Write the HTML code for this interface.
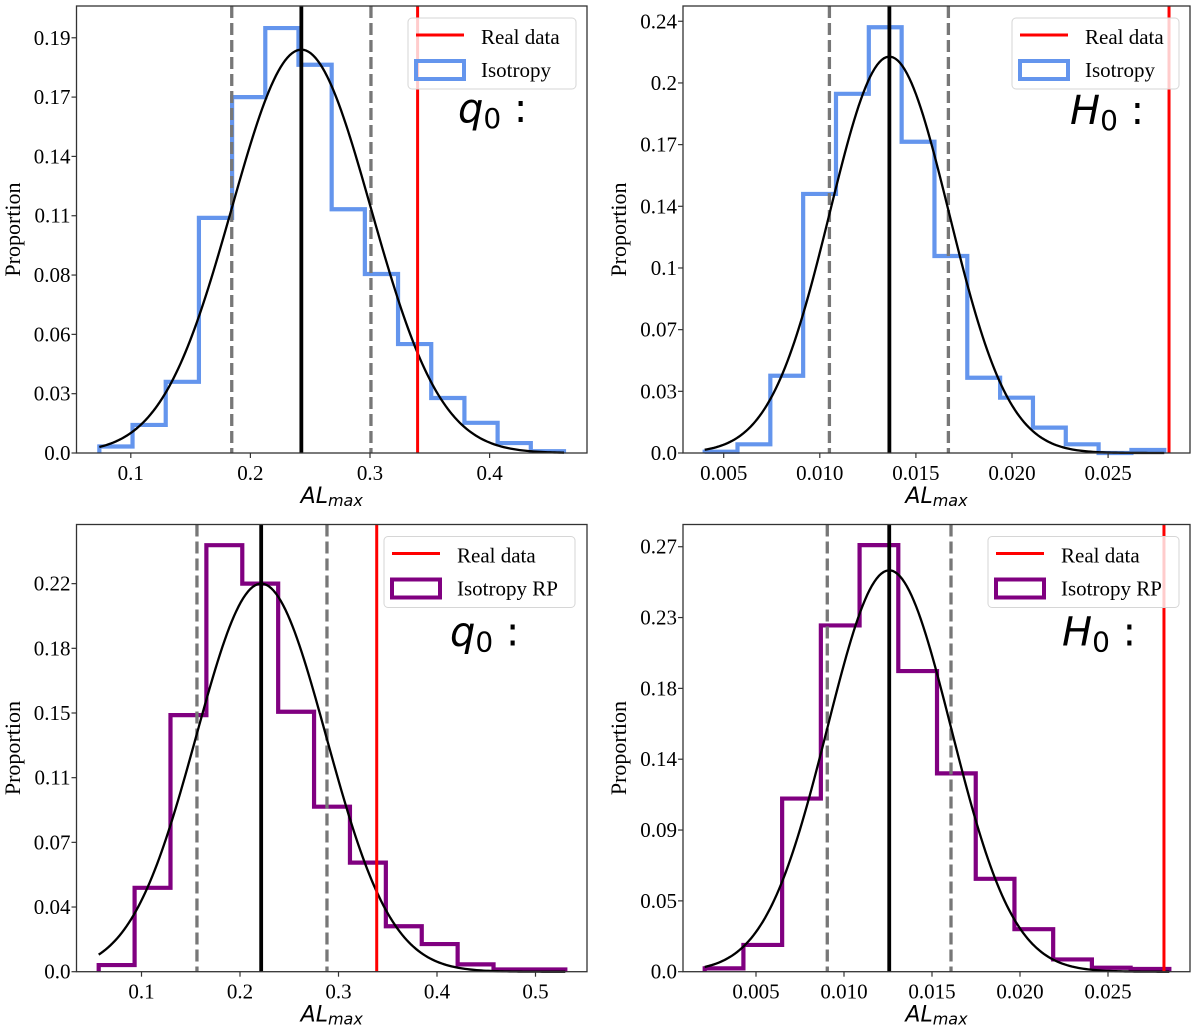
<!DOCTYPE html>
<html><head><meta charset="utf-8">
<style>
html,body{margin:0;padding:0;background:#fff;}
svg{display:block;}
.tick{font-family:"Liberation Serif",serif;font-size:21px;fill:#000;}
.leg{font-family:"Liberation Serif",serif;font-size:21px;fill:#000;}
.ylab{font-family:"Liberation Serif",serif;font-size:22px;fill:#000;}
.xlab{font-family:"DejaVu Sans",sans-serif;font-style:italic;font-size:22px;fill:#000;}
.tag{font-family:"DejaVu Sans",sans-serif;font-style:italic;font-size:40px;fill:#000;}
</style></head>
<body>
<svg id="fig" width="1200" height="1031" viewBox="0 0 1200 1031" xmlns="http://www.w3.org/2000/svg"></svg>
<script>
// ---- Top-left (q0, Isotropy) ----
const tlCounts = [0.003,0.013,0.033,0.109,0.165,0.197,0.180,0.113,0.083,0.0505,0.0255,0.014,0.0046,0.0008];
const tlBinStart = 0.0737, tlBinWidth = 0.02775;
const tlLines = [0.1844,0.2426,0.3008,0.3398]; // lower, mean, upper, real
const tlFit = [0.2426,0.0582,0.187];            // mu, sigma, peak
const tlXTicks = [0.1,0.2,0.3,0.4];
const tlXLabels = ["0.1","0.2","0.3","0.4"];
const tlYTicks = [0,0.0275,0.055,0.0825,0.11,0.1375,0.165,0.1925];
const tlYLabels = ["0.0","0.03","0.06","0.08","0.11","0.14","0.17","0.19"];
// ---- Top-right (H0, Isotropy) ----
const trCounts = [0.0007,0.0048,0.0426,0.1428,0.198,0.2347,0.1716,0.1086,0.0415,0.0305,0.014,0.0048,0,0.0017];
const trBinStart = 0.00401, trBinWidth = 0.001708;
const trLines = [0.0105,0.01362,0.01669,0.02817];
const trFit = [0.01362,0.0031,0.2185];
const trXTicks = [0.005,0.010,0.015,0.020,0.025];
const trXLabels = ["0.005","0.010","0.015","0.020","0.025"];
const trYTicks = [0,0.034,0.068,0.102,0.136,0.17,0.204,0.238];
const trYLabels = ["0.0","0.03","0.07","0.1","0.14","0.17","0.2","0.24"];
// ---- Bottom-left (q0, Isotropy RP) ----
const blCounts = [0.0038,0.048,0.1468,0.244,0.222,0.1487,0.0944,0.0624,0.026,0.0158,0.0042,0.0013,0.0013];
const blBinStart = 0.05655, blBinWidth = 0.03644;
const blLines = [0.1563,0.2215,0.2883,0.3388];
const blFit = [0.2215,0.066,0.222];
const blXTicks = [0.1,0.2,0.3,0.4,0.5];
const blXLabels = ["0.1","0.2","0.3","0.4","0.5"];
const blYTicks = [0,0.037,0.074,0.111,0.148,0.185,0.222];
const blYLabels = ["0.0","0.04","0.07","0.11","0.15","0.18","0.22"];
// ---- Bottom-right (H0, Isotropy RP) ----
const brCounts = [0.0021,0.017,0.110,0.220,0.271,0.191,0.126,0.059,0.027,0.0078,0.0025,0.0017];
const brBinStart = 0.002085, brBinWidth = 0.0022;
const brLines = [0.00905,0.01257,0.01608,0.02818];
const brFit = [0.01257,0.00352,0.255];
const brXTicks = [0.005,0.010,0.015,0.020,0.025];
const brXLabels = ["0.005","0.010","0.015","0.020","0.025"];
const brYTicks = [0,0.045,0.09,0.135,0.18,0.225,0.27];
const brYLabels = ["0.0","0.05","0.09","0.14","0.18","0.23","0.27"];

const NS="http://www.w3.org/2000/svg";
const fig=document.getElementById('fig');
function mk(tag,attrs,parent){const e=document.createElementNS(NS,tag);for(const k in attrs)e.setAttribute(k,attrs[k]);(parent||fig).appendChild(e);return e;}

function panel(p){
  const g=mk('g',{});
  
  
  const X=v=>p.x0px+(v-p.x0v)*p.xs;
  const Y=v=>p.bottom-v*p.ys;
  let d='M'+X(p.start)+','+Y(0);
  p.counts.forEach((c,i)=>{const a=X(p.start+i*p.width),b=X(p.start+(i+1)*p.width);d+=' L'+a+','+Y(c)+' L'+b+','+Y(c);});
  d+=' L'+X(p.start+p.counts.length*p.width)+','+Y(0);
  const h=mk('path',{d:d,fill:'none',stroke:p.color,'stroke-width':4.2,'stroke-linejoin':'miter'},g);
  
  
  [0,2].forEach(k=>{const l=mk('line',{x1:X(p.lines[k]),x2:X(p.lines[k]),y1:p.top,y2:p.bottom,stroke:'#777','stroke-width':3.3,'stroke-dasharray':'12,5'},g);
    
    });
  const m=mk('line',{x1:X(p.lines[1]),x2:X(p.lines[1]),y1:p.top,y2:p.bottom,stroke:'#000','stroke-width':3.8},g);
  
  
  const [mu,sg,pk]=p.fit;const x1=p.start,x2=p.start+p.counts.length*p.width;let fd='';
  for(let i=0;i<=200;i++){const v=x1+(x2-x1)*i/200;const y=pk*Math.exp(-(v-mu)*(v-mu)/(2*sg*sg));fd+=(i?' L':'M')+X(v).toFixed(2)+','+Y(y).toFixed(2);}
  const f=mk('path',{d:fd,fill:'none',stroke:'#000','stroke-width':2.3},g);
  
  
  const r=mk('line',{x1:X(p.lines[3]),x2:X(p.lines[3]),y1:p.top,y2:p.bottom,stroke:'#ff0000','stroke-width':3},g);
  
  
  const fr=mk('rect',{x:p.left,y:p.top,width:p.right-p.left,height:p.bottom-p.top,fill:'none',stroke:'#333','stroke-width':1.3},g);
  
  
  p.xt.forEach((v,i)=>{mk('line',{x1:X(v),x2:X(v),y1:p.bottom,y2:p.bottom+5,stroke:'#333','stroke-width':1.2},g);
    const t=mk('text',{x:X(v),y:p.bottom+27,'text-anchor':'middle',class:'tick'},g);t.textContent=p.xl[i];
    
    });
  p.yt.forEach((v,i)=>{mk('line',{x1:p.left-5,x2:p.left,y1:Y(v),y2:Y(v),stroke:'#333','stroke-width':1.2},g);
    const t=mk('text',{x:p.left-6,y:Y(v)+7,'text-anchor':'end',class:'tick'},g);t.textContent=p.yl[i];
    
    });
  const yl=mk('text',{x:0,y:0,transform:'translate('+p.ylx+','+((p.top+p.bottom)/2)+') rotate(-90)','text-anchor':'middle',class:'ylab'},g);
  yl.textContent='Proportion';
  
  
  const xl=mk('text',{x:(p.left+p.right)/2,y:p.bottom+50,'text-anchor':'middle',class:'xlab'},g);
  xl.innerHTML='AL<tspan font-size="16" dy="3">max</tspan>';
  
  
  const tg=mk('text',{x:p.tagx,y:p.top+p.tagy,class:'tag'},g);
  tg.innerHTML=p.tag+'<tspan font-size="28" font-style="normal" dy="6">0</tspan><tspan font-style="normal" dy="-6"> :</tspan>';
  
  
  const lg=mk('g',{},g);
  
  
  mk('rect',{x:p.lx,y:p.top+12,width:p.lw,height:71,rx:4,fill:'rgba(255,255,255,0.8)',stroke:'#d6d6d6','stroke-width':1},lg);
  mk('line',{x1:p.lx+8,x2:p.lx+56,y1:p.top+29,y2:p.top+29,stroke:'#ff0000','stroke-width':3},lg);
  const t1=mk('text',{x:p.lx+73,y:p.top+38,class:'leg'},lg);t1.textContent='Real data';
  
  
  mk('rect',{x:p.lx+8,y:p.top+55,width:48,height:18,fill:'none',stroke:p.color,'stroke-width':4},lg);
  const t2=mk('text',{x:p.lx+73,y:p.top+71,class:'leg'},lg);t2.textContent=p.legText;
  
  
}

panel({name:'panel-q0-isotropy',left:76.5,right:587,top:6,bottom:453,x0v:0.1,x0px:130.8,xs:1196,ys:2157,
  counts:tlCounts,start:tlBinStart,width:tlBinWidth,lines:tlLines,fit:tlFit,xt:tlXTicks,xl:tlXLabels,yt:tlYTicks,yl:tlYLabels,
  color:'#6495ed',ylx:20,tag:'q',tagx:458,tagy:116,lx:408,lw:168,legText:'Isotropy'});
panel({name:'panel-h0-isotropy',left:683,right:1190,top:6,bottom:453,x0v:0.005,x0px:723.7,xs:19220,ys:1814,
  counts:trCounts,start:trBinStart,width:trBinWidth,lines:trLines,fit:trFit,xt:trXTicks,xl:trXLabels,yt:trYTicks,yl:trYLabels,
  color:'#6495ed',ylx:626,tag:'H',tagx:1070,tagy:118,lx:1012,lw:167,legText:'Isotropy'});
panel({name:'panel-q0-isotropy-rp',left:76.5,right:587,top:524.5,bottom:971.7,x0v:0.1,x0px:141.5,xs:985,ys:1748,
  counts:blCounts,start:blBinStart,width:blBinWidth,lines:blLines,fit:blFit,xt:blXTicks,xl:blXLabels,yt:blYTicks,yl:blYLabels,
  color:'#800080',ylx:20,tag:'q',tagx:450,tagy:121,lx:384,lw:191,legText:'Isotropy RP'});
panel({name:'panel-h0-isotropy-rp',left:683,right:1190,top:524.5,bottom:971.7,x0v:0.005,x0px:756,xs:17600,ys:1574,
  counts:brCounts,start:brBinStart,width:brBinWidth,lines:brLines,fit:brFit,xt:brXTicks,xl:brXLabels,yt:brYTicks,yl:brYLabels,
  color:'#800080',ylx:626,tag:'H',tagx:1062,tagy:121,lx:988,lw:191,legText:'Isotropy RP'});
</script>
</body></html>
